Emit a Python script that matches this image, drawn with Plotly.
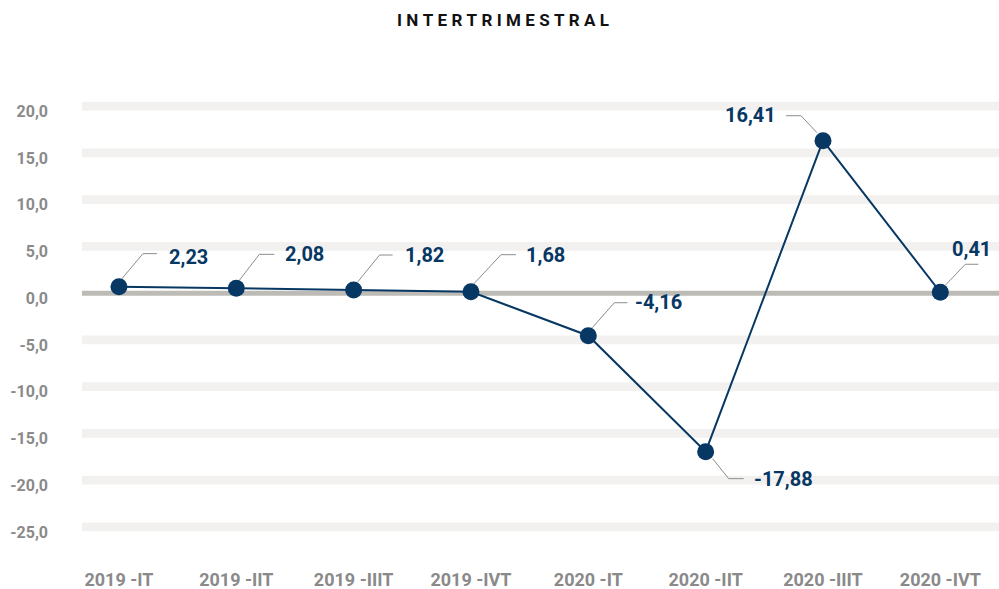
import plotly.graph_objects as go

# ---- data ----
categories = ["2019 -IT", "2019 -IIT", "2019 -IIIT", "2019 -IVT",
              "2020 -IT", "2020 -IIT", "2020 -IIIT", "2020 -IVT"]
values = [0.70, 0.52, 0.34, 0.16, -4.55, -16.95, 16.31, 0.10]
value_labels = ["2,23", "2,08", "1,82", "1,68", "-4,16", "-17,88", "16,41", "0,41"]
y_ticks = [20, 15, 10, 5, 0, -5, -10, -15, -20, -25]
y_ticktext = ["20,0", "15,0", "10,0", "5,0", "0,0", "-5,0", "-10,0", "-15,0", "-20,0", "-25,0"]
title = "INTERTRIMESTRAL"

# ---- styling ----
NAVY = "#073763"
GRAY_TXT = "#8a8a8a"
BAND = "#f2f1ef"
ZERO = "#bcbbb6"
FONT = "Roboto, 'DejaVu Sans', sans-serif"

# leader geometry per point (pixel offsets from point centre, y up):
# (start, diagonal end, horizontal end, label anchor x, label anchor y, xanchor)
leaders = [
    ((3, 8), (24, 33), 38, 48, 30, "left"),
    ((3, 8), (23, 34), 38, 47, 34, "left"),
    ((4, 8), (26, 35), 39, 49, 35, "left"),
    ((3, 8), (30, 37), 45, 53, 37, "left"),
    ((4, 8), (26, 33), 39, 45, 34, "left"),
    ((7, -7), (23, -27), 38, 46, -27.5, "left"),
    ((-6, 8), (-22, 25), -37, -45, 26, "right"),
    ((5, 7), (25, 28), 38, 31, 43, "center"),
]

fig = go.Figure()
fig.add_trace(go.Scatter(
    x=list(range(len(categories))), y=values, mode="lines+markers",
    line=dict(color=NAVY, width=2),
    marker=dict(color=NAVY, size=17),
    hoverinfo="skip", showlegend=False,
))

shapes = []
for v in y_ticks:
    if v == 0:
        shapes.append(dict(type="rect", xref="paper", x0=0, x1=1, yref="y",
                           y0=-0.27, y1=0.27, fillcolor=ZERO, line=dict(width=0), layer="below"))
    else:
        shapes.append(dict(type="rect", xref="paper", x0=0, x1=1, yref="y",
                           y0=v - 0.47, y1=v + 0.47, fillcolor=BAND, line=dict(width=0), layer="below"))

annotations = []
for i, (v, lab, ld) in enumerate(zip(values, value_labels, leaders)):
    (sx, sy), (dx, dy), hx, lx, ly, xa = ld
    path = f"M{sx},{sy} L{dx},{dy} L{hx},{dy}"
    shapes.append(dict(type="path", xref="x", yref="y", xsizemode="pixel", ysizemode="pixel",
                       xanchor=i, yanchor=v, path=path,
                       line=dict(color="#8c8c8c", width=1), layer="above"))
    annotations.append(dict(x=i, y=v, xref="x", yref="y", text=lab, showarrow=False,
                            xshift=lx, yshift=ly, xanchor=xa, yanchor="middle",
                            font=dict(family=FONT, size=20, color=NAVY, weight="bold")))

annotations.append(dict(x=(503 - 82) / (999 - 82), y=1 + (95 - 20) / 445,
                        xref="paper", yref="paper", text="\u2005".join(title),
                        showarrow=False, font=dict(family=FONT, size=17, color="#111111", weight="bold"),
                        xanchor="center", yanchor="middle"))

fig.update_layout(
    width=999, height=589,
    margin=dict(l=82, r=0, t=95, b=49, autoexpand=False),
    plot_bgcolor="white", paper_bgcolor="white",
    shapes=shapes, annotations=annotations,
    xaxis=dict(range=[-0.315, 7.5], tickmode="array", tickvals=list(range(len(categories))),
               ticktext=categories, showgrid=False, zeroline=False, showline=False,
               ticks="", ticklabelstandoff=27, automargin=False,
               tickfont=dict(family=FONT, size=18, color=GRAY_TXT, weight="bold")),
    yaxis=dict(range=[-26.4, 21.2], tickmode="array", tickvals=y_ticks, ticktext=y_ticktext,
               showgrid=False, zeroline=False, showline=False, ticks="",
               ticklabelstandoff=33, ticklabelshift=5, automargin=False,
               tickfont=dict(family=FONT, size=16, color=GRAY_TXT, weight="bold")),
)

fig.write_html("out.html", config={"displayModeBar": False},
               post_script="document.body.style.margin='0';document.body.style.overflow='hidden';")
